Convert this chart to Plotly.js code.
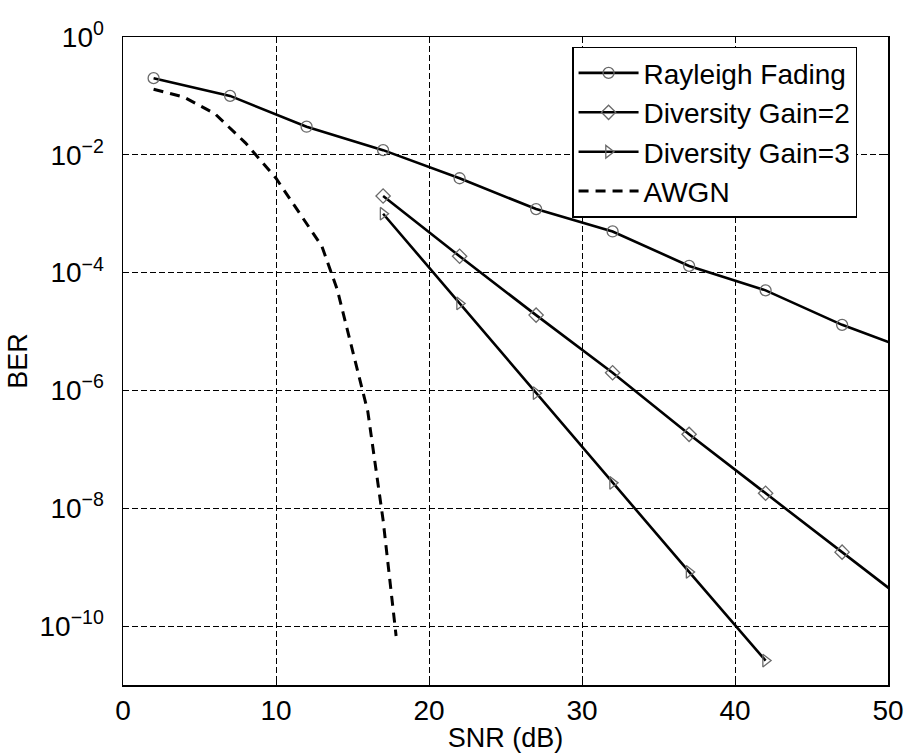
<!DOCTYPE html>
<html>
<head>
<meta charset="utf-8">
<script src="https://cdn.plot.ly/plotly-3.0.1.min.js"></script>
<style>html,body{margin:0;padding:0;background:#fff;}#chart{width:907px;height:753px;}</style>
</head>
<body>
<div id="chart"></div>
<script>
// Data
const rayleighSNR = [2, 7, 12, 17, 22, 27, 32, 37, 42, 47, 52];
const rayleighBER = [0.2, 0.1, 0.03, 0.012, 0.004, 0.0012, 5e-4, 1.3e-4, 5e-5, 1.3e-5, 4.3e-6];

const div2SNR = [17, 22, 27, 32, 37, 42, 47, 52];
const div2BER = [2e-3, 1.9e-4, 1.9e-5, 2e-6, 1.8e-7, 1.8e-8, 1.8e-9, 1.8e-10];

const div3SNR = [17, 22, 27, 32, 37, 42];
const div3BER = [1e-3, 3e-5, 9e-7, 2.7e-8, 8.3e-10, 2.6e-11];

const awgnSNR = [2, 4, 6, 8, 10, 12, 13, 14, 16, 17, 17.85];
const awgnBER = [0.13, 0.095, 0.05, 0.016, 0.004, 7e-4, 2.8e-4, 5.2e-5, 4.4e-7, 6.3e-9, 6.8e-11];

const seriesNames = ['Rayleigh Fading', 'Diversity Gain=2', 'Diversity Gain=3', 'AWGN'];

const yTickVals = [1, 1e-2, 1e-4, 1e-6, 1e-8, 1e-10];
const yTickText = ['10<sup>0</sup>', '10<sup>−2</sup>', '10<sup>−4</sup>', '10<sup>−6</sup>', '10<sup>−8</sup>', '10<sup>−10</sup>'];
const xTickVals = [0, 10, 20, 30, 40, 50];

const FONT = 'Liberation Sans, Arial, Helvetica, sans-serif';
const markerGray = '#6a6a6a';

function solid(x, y, name, symbol) {
  return {
    x: x, y: y, name: name, type: 'scatter', mode: 'lines+markers',
    line: {color: '#000', width: 2.6},
    marker: {symbol: symbol, size: 11, color: markerGray, line: {width: 1.3, color: markerGray}},
    cliponaxis: true
  };
}

const traces = [
  solid(rayleighSNR, rayleighBER, seriesNames[0], 'circle-open'),
  solid(div2SNR, div2BER, seriesNames[1], 'diamond-open'),
  solid(div3SNR, div3BER, seriesNames[2], 'triangle-right-open'),
  {
    x: awgnSNR, y: awgnBER, name: seriesNames[3], type: 'scatter', mode: 'lines',
    line: {color: '#000', width: 3, dash: '10px,7px'}
  }
];

const axisCommon = {
  showline: true, linecolor: '#000', linewidth: 1.5, mirror: 'ticks',
  ticks: 'inside', ticklen: 6, tickcolor: '#000', tickwidth: 1,
  showgrid: true, gridcolor: '#000', gridwidth: 1, griddash: '6px,3px',
  zeroline: false,
  tickfont: {family: FONT, size: 28, color: '#000'}
};

const layout = {
  width: 907, height: 753,
  margin: {l: 123, r: 19, t: 37, b: 68},
  paper_bgcolor: '#fff', plot_bgcolor: '#fff',
  font: {family: FONT, color: '#000'},
  showlegend: true,
  legend: {
    x: 0.587, y: 0.985, xanchor: 'left', yanchor: 'top',
    bgcolor: '#fff', bordercolor: '#000', borderwidth: 1.5,
    font: {family: FONT, size: 28, color: '#000'},
    tracegroupgap: 0, itemwidth: 60
  },
  xaxis: Object.assign({}, axisCommon, {
    range: [0, 50], tickmode: 'array', tickvals: xTickVals,
    ticklabelstandoff: 0,
    title: {text: 'SNR (dB)', font: {family: FONT, size: 27, color: '#000'}, standoff: 6}
  }),
  yaxis: Object.assign({}, axisCommon, {
    type: 'log', range: [-11, 0], tickmode: 'array', tickvals: yTickVals, ticktext: yTickText,
    ticklabelstandoff: 12,
    title: {text: 'BER', font: {family: FONT, size: 27, color: '#000'}, standoff: 4}
  })
};

Plotly.newPlot('chart', traces, layout, {displayModeBar: false, staticPlot: true});
</script>
</body>
</html>
